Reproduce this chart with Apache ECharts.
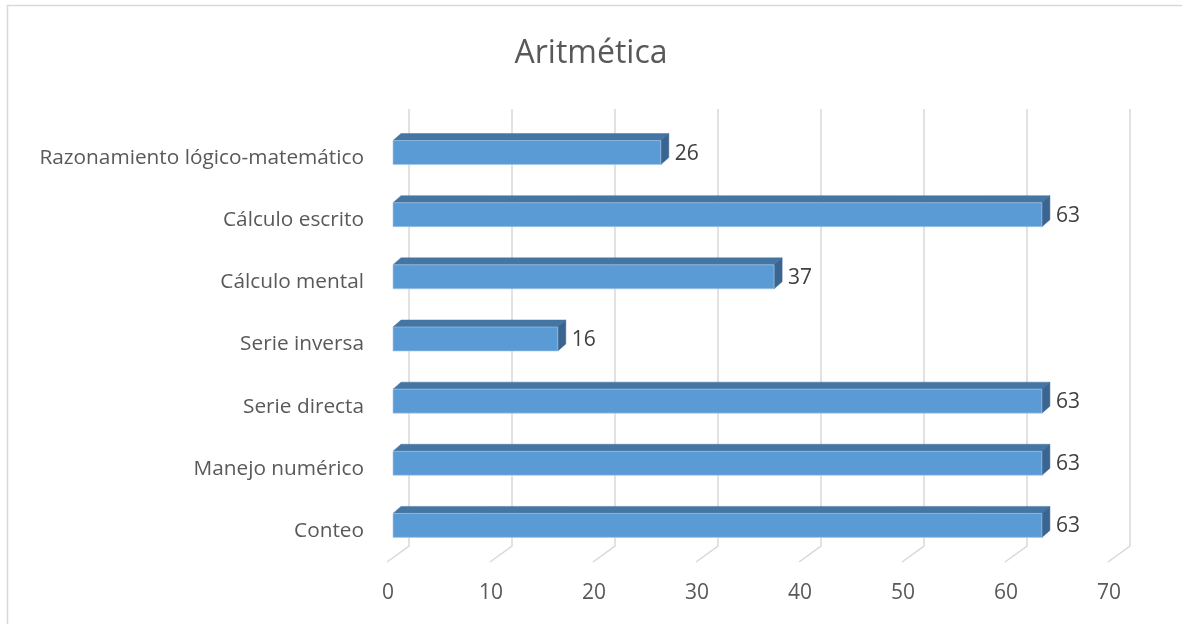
<!DOCTYPE html>
<html>
<head>
<meta charset="utf-8">
<script src="https://cdn.jsdelivr.net/npm/echarts@6/dist/echarts.min.js"></script>
<style>html,body{margin:0;padding:0;background:#fff}#c{width:1182px;height:624px}</style>
</head>
<body>
<div id="c"></div>
<script>
var categories = ['Conteo', 'Manejo numérico', 'Serie directa', 'Serie inversa', 'Cálculo mental', 'Cálculo escrito', 'Razonamiento lógico-matemático'];
var values = [63, 63, 63, 16, 37, 63, 26];
var tickValues = [0, 10, 20, 30, 40, 50, 60, 70];

var FONT = '"Open Sans", "Noto Sans", sans-serif';
var TXT = '#595959';
var chart = echarts.init(document.getElementById('c'));

var barData = values.map(function (v, i) { return [v, i]; });
var gridData = tickValues.map(function (t) { return [t, 0]; });

chart.setOption({
  animation: false,
  backgroundColor: '#fff',
  title: {
    text: 'Aritmética', left: 'center', top: 33,
    textStyle: { fontFamily: FONT, fontSize: 32, fontWeight: 'normal', color: TXT }
  },
  graphic: [{
    type: 'rect', shape: { x: 7.5, y: 5.5, width: 1200, height: 640 },
    style: { fill: 'none', stroke: '#d9d9d9', lineWidth: 1.5 }, silent: true, z: -10
  }],
  grid: { left: 388, width: 721, top: 127, height: 435 },
  xAxis: {
    type: 'value', min: 0, max: 70, interval: 10,
    axisLine: { show: false }, axisTick: { show: false }, splitLine: { show: false },
    axisLabel: { margin: 21, fontFamily: FONT, fontSize: 21, color: TXT }
  },
  yAxis: {
    type: 'category', data: categories,
    axisLine: { show: false }, axisTick: { show: false }, splitLine: { show: false },
    axisLabel: { margin: 24, fontFamily: FONT, fontSize: 20.8, color: TXT }
  },
  series: [{
    type: 'custom',
    data: gridData,
    z: 1,
    renderItem: function (params, api) {
      var p = api.coord([api.value(0), 0]);
      var band = api.size([0, 1])[1];
      var yb = p[1] + band / 2;
      var dx = 21, dy = 16;
      return {
        type: 'polyline',
        shape: { points: [[p[0] - 1, yb], [p[0] + dx, yb - dy], [p[0] + dx, 109]] },
        style: { fill: 'none', stroke: '#d9d9d9', lineWidth: 1.5 }
      };
    }
  }, {
    type: 'custom',
    data: barData,
    z: 2,
    renderItem: function (params, api) {
      var v = api.value(0), c = api.value(1);
      var p0 = api.coord([0, c]);
      var p1 = api.coord([v, c]);
      var h = 24, dx = 8, dy = 7, off = 5;
      var x0 = p0[0] + off, x1 = p1[0] + off;
      var yt = p0[1] - 5.5 - h / 2, yb = yt + h;
      return {
        type: 'group',
        children: [{
          type: 'polygon',
          shape: { points: [[x0, yt], [x0 + dx, yt - dy], [x1 + dx, yt - dy], [x1, yt]] },
          style: { fill: '#4475a3', stroke: '#4475a3', lineWidth: 0.5 }
        }, {
          type: 'polygon',
          shape: { points: [[x1, yt], [x1 + dx, yt - dy], [x1 + dx, yb - dy], [x1, yb]] },
          style: { fill: '#3a6590', stroke: '#3a6590', lineWidth: 0.5 }
        }, {
          type: 'rect',
          shape: { x: x0, y: yt, width: x1 - x0, height: h },
          style: { fill: '#5b9bd5', stroke: '#a9c8e8', lineWidth: 0.6 }
        }, {
          type: 'text',
          style: {
            text: String(v), x: x1 + dx + 6, y: yt + h / 2 + 1,
            verticalAlign: 'middle', align: 'left',
            font: '21px ' + FONT, fill: '#404040'
          }
        }]
      };
    }
  }]
});
</script>
</body>
</html>
